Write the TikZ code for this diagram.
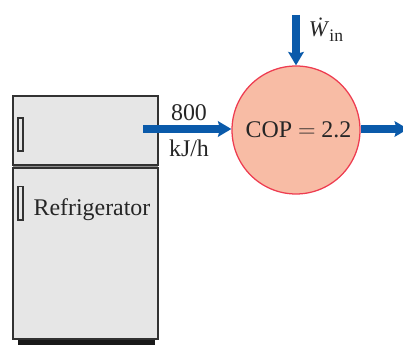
\documentclass[tikz,border=0pt]{standalone}
\usepackage{fontspec}
\setmainfont{Liberation Serif}
\usetikzlibrary{arrows.meta, positioning}
\definecolor{flowblue}{RGB}{10,90,170}
\definecolor{doorgray}{RGB}{230,230,230}
\definecolor{edgegray}{RGB}{50,50,50}
\definecolor{coolred}{RGB}{238,60,80}
\definecolor{coolfill}{RGB}{248,188,165}

\begin{document}
\begin{tikzpicture}[
    doorbox/.style={rectangle, draw=edgegray, line width=1.3pt, fill=doorgray,
        minimum width=3.625cm, inner sep=0pt},
    handlebox/.style={rectangle, draw=edgegray, line width=1.2pt, fill=doorgray,
        minimum width=0.13cm, minimum height=0.83cm, inner sep=0pt},
    basebox/.style={rectangle, fill=black!90, minimum width=3.425cm,
        minimum height=0.15cm, inner sep=0pt},
    seambox/.style={rectangle, fill=black!45, minimum width=3.6cm,
        minimum height=0.2cm, inner sep=0pt},
    cycle/.style={circle, draw=coolred, line width=0.9pt, fill=coolfill,
        minimum size=3.2cm, inner sep=0pt, font=\fontsize{17}{20}\selectfont, text=black!85},
    label/.style={font=\fontsize{17}{20}\selectfont, text=black!85, inner sep=0pt},
    arrow/.style={-{Stealth[length=9.5pt, width=11pt, inset=1.5pt]}, line width=5.2pt, draw=flowblue}
]
    \useasboundingbox (0,0) rectangle (10.075,8.6);

    % Refrigerator
    \node[basebox] (base) at (2.1625, 0.05) {};
    \node[seambox] (seam) at (2.1375, 4.45) {};
    \node[doorbox, minimum height=1.725cm] (freezer) at (2.1375, 5.3375) {};
    \node[doorbox, minimum height=4.28cm] (cabinet) at (2.1375, 2.26) {};
    \node[handlebox] (upper) at (0.5125, 5.24) {};
    \node[handlebox] (lower) at (0.5125, 3.52) {};
    \node[label] (fridge) at (2.3, 3.35) {Refrigerator};

    % Center
    \node[cycle] (cop) at (7.4, 5.35) {\hspace*{3.5pt}COP $=$ 2.2};

    % Arrows
    \coordinate (heatin) at (3.575, 5.375);
    \coordinate (workin) at (7.4, 8.225);
    \coordinate (heatout) at (10.2, 5.375);
    \draw[arrow] (heatin) -- (cop.west |- heatin);
    \draw[arrow] (workin) -- (cop.north);
    \draw[arrow] (cop.east |- heatout) -- (heatout);

    % Labels
    \node[label] (rate) at (4.725, 5.775) {800};
    \node[label] (unit) at (4.725, 4.9) {kJ/h};
    \node[label] (work) at (8.15, 7.85) {\fontsize{16}{20}\selectfont\textit{\.W}\raisebox{-3.5pt}{\fontsize{12.5}{15}\selectfont in}};
\end{tikzpicture}
\end{document}
